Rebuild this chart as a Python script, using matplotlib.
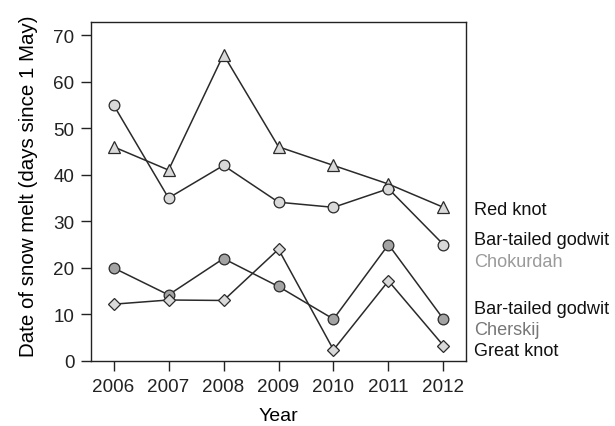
import matplotlib
matplotlib.use("Agg")
import matplotlib.pyplot as plt

years = [2006, 2007, 2008, 2009, 2010, 2011, 2012]
red_knot = [46, 41, 65.8, 46, 42, 38, 33]
godwit_chokurdah = [55, 35, 42, 34.1, 33, 37, 25]
godwit_cherskij = [20, 14.2, 22, 16, 9, 25, 9]
great_knot = [12.2, 13.1, 13, 24, 2.4, 17.2, 3.3]

plt.rcParams['font.family'] = ['Liberation Sans', 'DejaVu Sans']

fig = plt.figure(figsize=(6.15, 4.27), dpi=100)
ax = fig.add_axes([91/615, 1 - 362/427, (466-91)/615, (362-23)/427])

edge = '#2a2a2a'
light = '#d9d9d9'
dark = '#a3a3a3'
lw = 1.1

ax.plot(years, red_knot, color=edge, lw=lw, marker='^', ms=8.6,
        mfc=light, mec=edge, mew=0.9, zorder=3)
ax.plot(years, godwit_chokurdah, color=edge, lw=lw, marker='o', ms=7.7,
        mfc=light, mec=edge, mew=0.9, zorder=3)
ax.plot(years, godwit_cherskij, color=edge, lw=lw, marker='o', ms=7.7,
        mfc=dark, mec=edge, mew=0.9, zorder=3)
ax.plot(years, great_knot, color=edge, lw=lw, marker='D', ms=6.0,
        mfc=light, mec=edge, mew=0.9, zorder=3)

ax.set_xlim(2005.59, 2012.41)
ax.set_ylim(0, 72.8)
ax.set_xticks(years)
ax.set_yticks([0, 10, 20, 30, 40, 50, 60, 70])
ax.tick_params(axis='both', direction='out', length=6.9, width=1, labelsize=13.6,
               colors='#222222', pad=5)
for s in ax.spines.values():
    s.set_linewidth(1.0)
    s.set_color('#222222')

ax.set_xlabel('Year', fontsize=14, labelpad=9.3)
ax.set_ylabel('Date of snow melt (days since 1 May)', fontsize=14.8)
ax.yaxis.set_label_coords((38 - 91) / 375, (362 - 186.5) / 339)

tx = 474
def lab(y, text, color='#111111'):
    fig.text(tx/615, 1 - y/427, text, fontsize=13.1, color=color, va='baseline', ha='left')

lab(215, 'Red knot')
lab(245, 'Bar-tailed godwit')
lab(267, 'Chokurdah', '#9a9a9a')
lab(313.5, 'Bar-tailed godwit')
lab(335.5, 'Cherskij', '#777777')
lab(356.5, 'Great knot')

fig.savefig('out.png', dpi=100)
